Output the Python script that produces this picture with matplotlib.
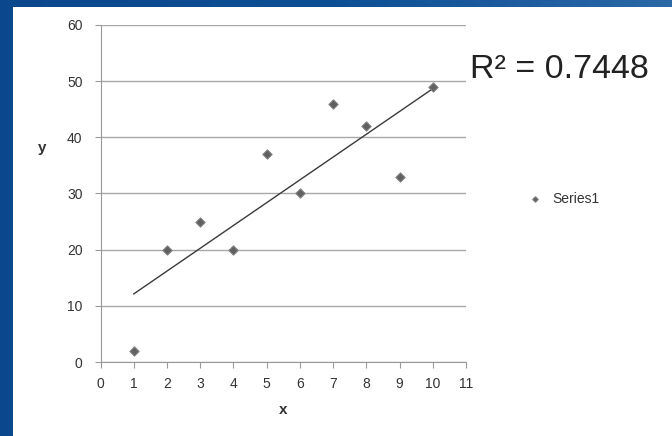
import numpy as np
import matplotlib
matplotlib.use("Agg")
import matplotlib.pyplot as plt
from matplotlib.patches import Rectangle
from matplotlib.colors import LinearSegmentedColormap

plt.rcParams['font.family'] = ['Liberation Sans', 'DejaVu Sans']

# données
x_vals = [1, 2, 3, 4, 5, 6, 7, 8, 9, 10]
y_vals = [2, 20, 25, 20, 37, 30, 46, 42, 33, 49]
x_ticks = list(range(0, 12))
y_ticks = list(range(0, 70, 10))
r2_label = "R² = 0.7448"
series_name = "Series1"

fig = plt.figure(figsize=(6.72, 4.36), dpi=100)

# fond bleu dégradé
bg = fig.add_axes([0, 0, 1, 1])
grad = np.tile(np.linspace(0, 1, 200), (100, 1))
cmap_bg = LinearSegmentedColormap.from_list("bg", ["#0b478c", "#0d4f95", "#2a68a6"])
bg.imshow(grad, cmap=cmap_bg, aspect="auto", extent=[0, 1, 0, 1])
bg.add_patch(Rectangle((13 / 672, 0), 1, 1 - 7 / 436, facecolor="white", edgecolor="none"))
bg.set_xlim(0, 1)
bg.set_ylim(0, 1)
bg.axis("off")

ax = fig.add_axes([0.1496, 0.1697, 0.544, 0.773])
ax.set_facecolor("white")

ax.scatter(x_vals, y_vals, marker="D", s=22, color="#606060", edgecolor="#808080",
           linewidth=0.8, zorder=3, label=series_name)

# droite de tendance
coef = np.polyfit(x_vals, y_vals, 1)
xs = np.array([min(x_vals), max(x_vals)])
ax.plot(xs, np.polyval(coef, xs), color="#3a3a3a", lw=1, zorder=2)

ax.set_xlim(0, 11)
ax.set_ylim(0, 60)
ax.set_xticks(x_ticks)
ax.set_yticks(y_ticks)
ax.grid(axis="y", color="#a8a8a8", lw=1)
ax.set_axisbelow(True)
for s in ["top", "right"]:
    ax.spines[s].set_visible(False)
for s in ["left", "bottom"]:
    ax.spines[s].set_color("#999999")
ax.tick_params(colors="#999999", length=4, labelcolor="#333333", labelsize=10)
ax.tick_params(axis="y", pad=9)
ax.tick_params(axis="x", pad=7)

fig.text(42 / 672, 1 - 148 / 436, "y", fontsize=11, fontweight="bold", color="#333333",
         ha="center", va="center")
fig.text(283 / 672, 1 - 410 / 436, "x", fontsize=11, fontweight="bold", color="#333333",
         ha="center", va="center")

fig.text(470 / 672, 1 - 70 / 436, r2_label, fontsize=24.5, color="#222222", va="center")

ax.legend(loc="center left", bbox_to_anchor=(1.115, 0.485), frameon=False, fontsize=10,
          handletextpad=0.3, markerscale=0.6, labelcolor="#333333")

fig.savefig("out.png", dpi=100)
